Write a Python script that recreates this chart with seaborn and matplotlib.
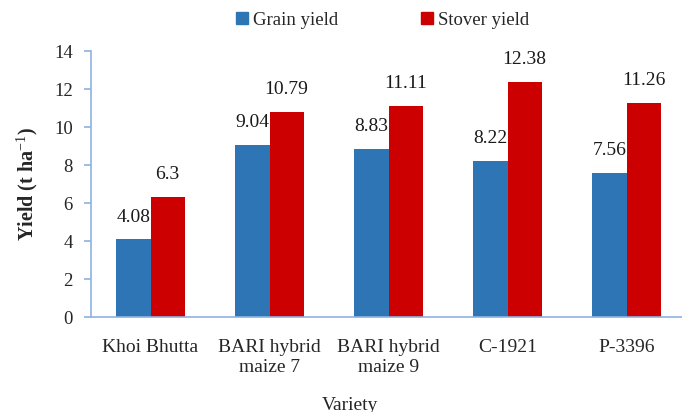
import matplotlib
matplotlib.use("Agg")
import matplotlib.pyplot as plt
import seaborn as sns
import pandas as pd
from matplotlib.lines import Line2D

varieties = ["Khoi Bhutta", "BARI hybrid\nmaize 7", "BARI hybrid\nmaize 9", "C-1921", "P-3396"]
grain_yield = [4.08, 9.04, 8.83, 8.22, 7.56]
stover_yield = [6.3, 10.79, 11.11, 12.38, 11.26]
series_names = ["Grain yield", "Stover yield"]
colors = ["#2E75B6", "#CC0000"]
yticks = [0, 2, 4, 6, 8, 10, 12, 14]

df = pd.DataFrame({
    "Variety": varieties * 2,
    "Yield": grain_yield + stover_yield,
    "Series": [series_names[0]] * len(varieties) + [series_names[1]] * len(varieties),
})

sns.set_theme(style="white")
plt.rcParams["font.family"] = ["Liberation Serif", "DejaVu Serif"]
plt.rcParams["mathtext.fontset"] = "custom"
plt.rcParams["mathtext.rm"] = "Liberation Serif"
plt.rcParams["mathtext.it"] = "Liberation Serif:italic"
plt.rcParams["mathtext.bf"] = "Liberation Serif:bold"

fig = plt.figure(figsize=(6.82, 4.12), dpi=100)
ax = fig.add_axes([91 / 682, 1 - 317 / 412, 595 / 682, 266 / 412])

sns.barplot(data=df, x="Variety", y="Yield", hue="Series", palette=colors,
            width=0.572, gap=0, ax=ax, legend=False, saturation=1, linewidth=0)

for cont in ax.containers:
    labels = [("%g" % v) for v in cont.datavalues]
    ax.bar_label(cont, labels=labels, padding=10, fontsize=14, color="#1a1a1a")

spine_c = "#8DB3E2"
ax.set_ylim(0, 14)
ax.set_yticks(yticks)
ax.set_xlim(-0.5, len(varieties) - 0.5)
for s in ["top", "right"]:
    ax.spines[s].set_visible(False)
for s in ["left", "bottom"]:
    ax.spines[s].set_color(spine_c)
    ax.spines[s].set_linewidth(1.2)
ax.tick_params(axis="y", left=True, length=5, color=spine_c, width=1.2, labelsize=13.5, pad=8)
ax.tick_params(axis="x", bottom=False, labelsize=14, pad=10)
ax.set_xlabel("")
ax.set_ylabel("Yield (t ha$^{-1}$)", fontsize=14.5, fontweight="bold", labelpad=10)

fig.text(350 / 682, 1 - 405 / 412, "Variety", ha="center", va="center", fontsize=14)

handles = [Line2D([], [], marker="s", linestyle="none", markersize=9,
                  markerfacecolor=c, markeredgecolor=c) for c in colors]
fig.legend(handles, series_names, loc="center", bbox_to_anchor=(381 / 682, 1 - 20 / 412),
           ncol=2, frameon=False, fontsize=13.5, handletextpad=0.1, columnspacing=4.2,
           handlelength=1.0)

fig.savefig("out.png", dpi=100)
